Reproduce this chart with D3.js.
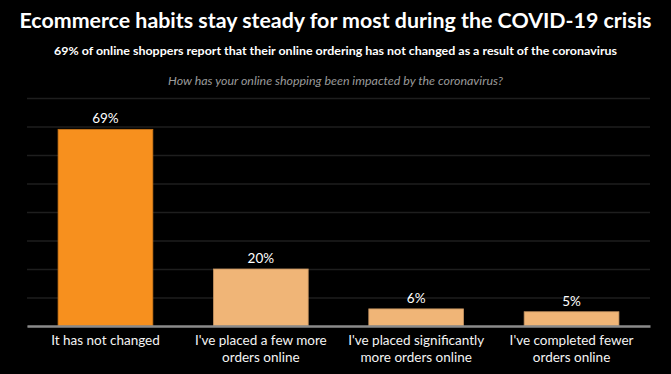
<!DOCTYPE html>
<html>
<head>
<meta charset="utf-8">
<script src="https://cdn.jsdelivr.net/npm/d3@7"></script>
<style>
  body { margin: 0; background: #000; }
  text { font-family: Lato, "Open Sans", sans-serif; }
</style>
</head>
<body>
<div id="chart"></div>
<script>
// chart data
var categories = [
    ["It has not changed"],
    ["I've placed a few more", "orders online"],
    ["I've placed significantly", "more orders online"],
    ["I've completed fewer", "orders online"]
];
var values = [69, 20, 6, 5];
var barColors = ["#f7901e", "#f0b577", "#f0b577", "#f0b577"];
var yTicks = [0, 10, 20, 30, 40, 50, 60, 70, 80];

var svgWidth = 671;
var svgHeight = 374;

var margin = { top: 98, right: 21, bottom: 48, left: 27 };
var width = svgWidth - margin.left - margin.right;
var height = svgHeight - margin.top - margin.bottom;

var svg = d3.select("#chart").append("svg")
    .attr("width", svgWidth)
    .attr("height", svgHeight)
    .style("background", "#000");

// titles
svg.append("text")
    .attr("x", svgWidth / 2)
    .attr("y", 28)
    .attr("text-anchor", "middle")
    .attr("fill", "#fff")
    .attr("font-size", "21px")
    .attr("font-weight", "bold")
    .attr("textLength", 632)
    .attr("lengthAdjust", "spacingAndGlyphs")
    .text("Ecommerce habits stay steady for most during the COVID-19 crisis");

svg.append("text")
    .attr("x", svgWidth / 2)
    .attr("y", 55)
    .attr("text-anchor", "middle")
    .attr("fill", "#fff")
    .attr("font-size", "11.5px")
    .attr("font-weight", "bold")
    .attr("textLength", 563)
    .attr("lengthAdjust", "spacingAndGlyphs")
    .text("69% of online shoppers report that their online ordering has not changed as a result of the coronavirus");

svg.append("text")
    .attr("x", svgWidth / 2)
    .attr("y", 85)
    .attr("text-anchor", "middle")
    .attr("fill", "#9a9a9a")
    .attr("font-size", "11.5px")
    .attr("font-style", "italic")
    .attr("textLength", 335)
    .attr("lengthAdjust", "spacingAndGlyphs")
    .text("How has your online shopping been impacted by the coronavirus?");

var chartGroup = svg.append("g")
    .attr("transform", `translate(${margin.left}, ${margin.top})`);

var xScale = d3.scaleBand()
    .domain(d3.range(values.length))
    .range([0, width])
    .paddingInner(0.39)
    .paddingOuter(0.2);

var yScale = d3.scaleLinear()
    .domain([0, 80])
    .range([height, 0]);

// gridlines
var grid = chartGroup.append("g")
    .call(d3.axisLeft(yScale).tickValues(yTicks).tickSize(-width).tickFormat(""));
grid.select(".domain").remove();
grid.selectAll("line").attr("stroke", "#1e1e1e").attr("stroke-width", 1.5);

// bars
chartGroup.selectAll("rect.bar")
    .data(values)
    .enter()
    .append("rect")
    .attr("class", "bar")
    .attr("x", (d, i) => xScale(i))
    .attr("y", d => yScale(d))
    .attr("width", xScale.bandwidth())
    .attr("height", d => height - yScale(d))
    .attr("fill", (d, i) => barColors[i])
    .attr("stroke", (d, i) => d3.color(barColors[i]).darker(0.6))
    .attr("stroke-width", 0.8);

// value labels
chartGroup.selectAll("text.val")
    .data(values)
    .enter()
    .append("text")
    .attr("class", "val")
    .attr("x", (d, i) => xScale(i) + xScale.bandwidth() / 2)
    .attr("y", d => yScale(d) - 6)
    .attr("text-anchor", "middle")
    .attr("fill", "#fff")
    .attr("font-size", "13.5px")
    .text(d => d + "%");

// baseline
var xAxis = chartGroup.append("g")
    .attr("transform", `translate(0, ${height})`)
    .call(d3.axisBottom(xScale).tickSize(0).tickFormat(""));
xAxis.select(".domain").attr("stroke", "#8a8a8a").attr("stroke-width", 2.5);

// category labels
var catLabels = chartGroup.selectAll("text.cat")
    .data(categories)
    .enter()
    .append("text")
    .attr("class", "cat")
    .attr("text-anchor", "middle")
    .attr("fill", "#f4f4f4")
    .attr("font-size", "13.5px")
    .attr("transform", (d, i) => `translate(${xScale(i) + xScale.bandwidth() / 2}, ${height + 19})`);

catLabels.selectAll("tspan")
    .data(d => d)
    .enter()
    .append("tspan")
    .attr("x", 0)
    .attr("dy", (d, i) => i === 0 ? 0 : 17)
    .text(d => d);
</script>
</body>
</html>
